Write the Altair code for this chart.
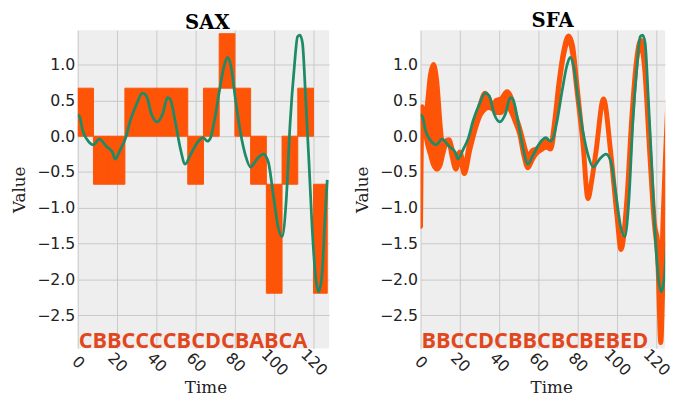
import altair as alt
import pandas as pd

# ---------------- data ----------------
GREEN_T = [0, 1, 2.5, 4.6, 7.9, 11, 14.5, 17.8, 19, 21.8, 24.3, 26.8, 30, 32.9, 35,
           37.5, 40.4, 43.2, 45.7, 47, 49.8, 52.3, 54.7, 57.2, 61.4, 63.8, 66, 67.5,
           69.6, 72.1, 74.6, 76.2, 77.9, 80.4, 82.9, 85.4, 87.9, 91.2, 94.5, 97, 99.5,
           102, 104, 106.2, 108.1, 110.3, 111.9, 113.1, 114.4, 116, 117.7, 119.3, 121,
           122.6, 124.3, 125.9, 127]
GREEN_V = [0.3, 0.27, 0.08, -0.04, -0.12, -0.04, -0.14, -0.23, -0.32, -0.18, -0.03,
           0.22, 0.45, 0.6, 0.56, 0.31, 0.2, 0.31, 0.54, 0.52, 0.18, -0.18, -0.39,
           -0.27, -0.07, -0.02, -0.07, -0.03, 0.22, 0.63, 0.99, 1.1, 0.99, 0.49, 0.04,
           -0.27, -0.43, -0.32, -0.25, -0.36, -0.81, -1.27, -1.4, -0.86, 0.18, 0.99,
           1.39, 1.41, 1.3, 0.54, -0.36, -1.27, -1.94, -2.17, -1.94, -1.13, -0.61]

SAX_WORD = "CBBCCCCBCDCBABCA"
SAX_ALPHABET = ["A", "B", "C", "D"]
SAX_LEVELS = [-2.19, -0.67, 0.0, 0.67, 1.43]   # edges of the letter bands
SEG_LEN = 8
SERIES_END = 127

SFA_WORD = "BBCCDCBBCBCBEBED"
SFA_T = [0, 0.8, 2.2, 3.5, 5, 6.6, 8.3, 10, 11.3, 12.8, 14.5, 16.2, 18, 20, 22.3, 25,
         28.4, 30.5, 32.8, 34.5, 36.7, 38.5, 41, 44, 46, 48.3, 50.6, 52.5, 54.7, 57,
         59, 62, 64, 66.3, 68.5, 70.4, 73, 75.4, 77.5, 79.5, 82.8, 85.3, 87.3, 89.4,
         93.2, 96.8, 100.1, 102.1, 105.1, 107.6, 110.1, 112.1, 114.2, 116.7, 119.1,
         120.9, 122.4, 123.5, 124.6, 126]
SFA_LO = [-1.26, 0.41, 0.1, -0.1, -0.25, -0.4, -0.46, -0.4, -0.25, -0.12, -0.1, -0.3,
          -0.46, -0.3, -0.52, -0.2, 0.15, 0.3, 0.38, 0.4, 0.38, 0.33, 0.33, 0.42, 0.35,
          0.2, 0.02, -0.25, -0.44, -0.32, -0.24, -0.18, -0.15, -0.18, 0.2, 0.68, 1.15,
          1.35, 1.15, 0.68, -0.12, -0.87, -0.6, -0.21, 0.52, -0.21, -1.12, -1.58,
          -0.89, 0.25, 1.07, 1.28, 0.93, -0.21, -1.21, -1.75, -2.88, -2.0, -1.3, -0.3]
SFA_HI = [-1.26, 0.41, 0.15, 0.45, 0.85, 1.0, 0.75, 0.15, -0.15, -0.07, -0.05, -0.2,
          -0.38, -0.22, -0.42, -0.1, 0.25, 0.45, 0.6, 0.55, 0.42, 0.5, 0.52, 0.62, 0.55,
          0.3, 0.1, -0.1, -0.28, -0.2, -0.18, -0.1, -0.05, -0.12, 0.25, 0.72, 1.2,
          1.4, 1.25, 0.75, -0.12, -0.87, -0.6, -0.21, 0.52, -0.21, -1.12, -1.58,
          -0.89, 0.25, 1.07, 1.34, 0.93, -0.21, -1.21, -1.5, -2.2, -1.2, -0.4, 0.5]

SAX_X_DOMAIN = [0, 128]
SFA_X_DOMAIN = [0, 124.6]      # right panel is cut by the picture's edge
Y_DOMAIN = [-2.96, 1.48]
X_TICKS = [0, 20, 40, 60, 80, 100, 120]
Y_TICKS = [-2.5, -2.0, -1.5, -1.0, -0.5, 0.0, 0.5, 1.0]

ORANGE = "#fd5407"
TEXT_RED = "#e2461c"
GREEN = "#1f8a68"

# ---------------- tables ----------------
green_df = pd.DataFrame({"t": GREEN_T, "v": GREEN_V})

bars = []
for i, letter in enumerate(SAX_WORD):
    k = SAX_ALPHABET.index(letter)
    bars.append({"t": i * SEG_LEN, "t2": min((i + 1) * SEG_LEN, SERIES_END),
                 "v": SAX_LEVELS[k], "v2": SAX_LEVELS[k + 1]})
bars_df = pd.DataFrame(bars)

sfa_df = pd.DataFrame({"t": SFA_T, "v": SFA_LO, "v2": SFA_HI})

PX_PER_T = 2.0
H = 324


def xenc(domain, title_x):
    return alt.X("t:Q", scale=alt.Scale(domain=domain, nice=False, zero=False),
                 axis=alt.Axis(values=X_TICKS, title="Time", labelAngle=45,
                               labelAlign="center", labelBaseline="middle",
                               labelPadding=14, titlePadding=1, titleX=title_x))


def yenc():
    return alt.Y("v:Q", scale=alt.Scale(domain=Y_DOMAIN, nice=False, zero=False),
                 axis=alt.Axis(values=Y_TICKS, format=".1f", title="Value",
                               labelPadding=3, titlePadding=8))


def word_layer(word, x):
    df = pd.DataFrame({"t": [0], "v": [Y_DOMAIN[0]], "word": [word]})
    return alt.Chart(df).mark_text(align="left", baseline="alphabetic", dx=1,
                                   font="Open Sans", fontWeight="bold", fontSize=22,
                                   color=TEXT_RED).encode(x=x, y=yenc(), text="word:N")


def green_layer(x):
    return alt.Chart(green_df).mark_line(color=GREEN, strokeWidth=2.8,
                                         interpolate="monotone", clip=True).encode(
        x=x, y=yenc())


sax_x = xenc(SAX_X_DOMAIN, 130)
sfa_x = xenc(SFA_X_DOMAIN, 133)

sax_bars = alt.Chart(bars_df).mark_rect(color=ORANGE, stroke=ORANGE, strokeWidth=1,
                                        clip=True).encode(
    x=sax_x, x2="t2:Q", y=yenc(), y2="v2:Q")

sfa_area = alt.Chart(sfa_df).mark_area(color=ORANGE, stroke=ORANGE, strokeWidth=5,
                                       strokeJoin="round", interpolate="monotone",
                                       opacity=1, clip=True).encode(
    x=sfa_x, y=yenc(), y2="v2:Q")

left = alt.layer(sax_bars, green_layer(sax_x), word_layer(SAX_WORD, sax_x)).properties(
    width=round(SAX_X_DOMAIN[1] * PX_PER_T), height=H,
    title=alt.TitleParams("SAX", font="DejaVu Serif", fontSize=20, fontWeight="bold",
                          color="black", offset=-3, dx=4))

right = alt.layer(sfa_area, green_layer(sfa_x), word_layer(SFA_WORD, sfa_x)).properties(
    width=round(SFA_X_DOMAIN[1] * PX_PER_T), height=H,
    title=alt.TitleParams("SFA", font="DejaVu Serif", fontSize=20, fontWeight="bold",
                          color="black", offset=-1, dx=10))

chart = alt.hconcat(left, right, spacing=24).properties(
    padding={"left": 3, "top": 0, "right": 0, "bottom": 0},
    background="white",
).configure_view(fill="#eeeeee", stroke=None).configure_axis(
    domain=False, ticks=False, grid=True, gridColor="#c9c9c9", gridWidth=1,
    labelFont="DejaVu Sans", labelFontSize=16, labelColor="#222222",
    titleFont="DejaVu Serif", titleFontSize=17, titleFontWeight="normal",
    titleColor="#222222")

chart.save("out.html", embed_options={"renderer": "svg", "actions": False})
